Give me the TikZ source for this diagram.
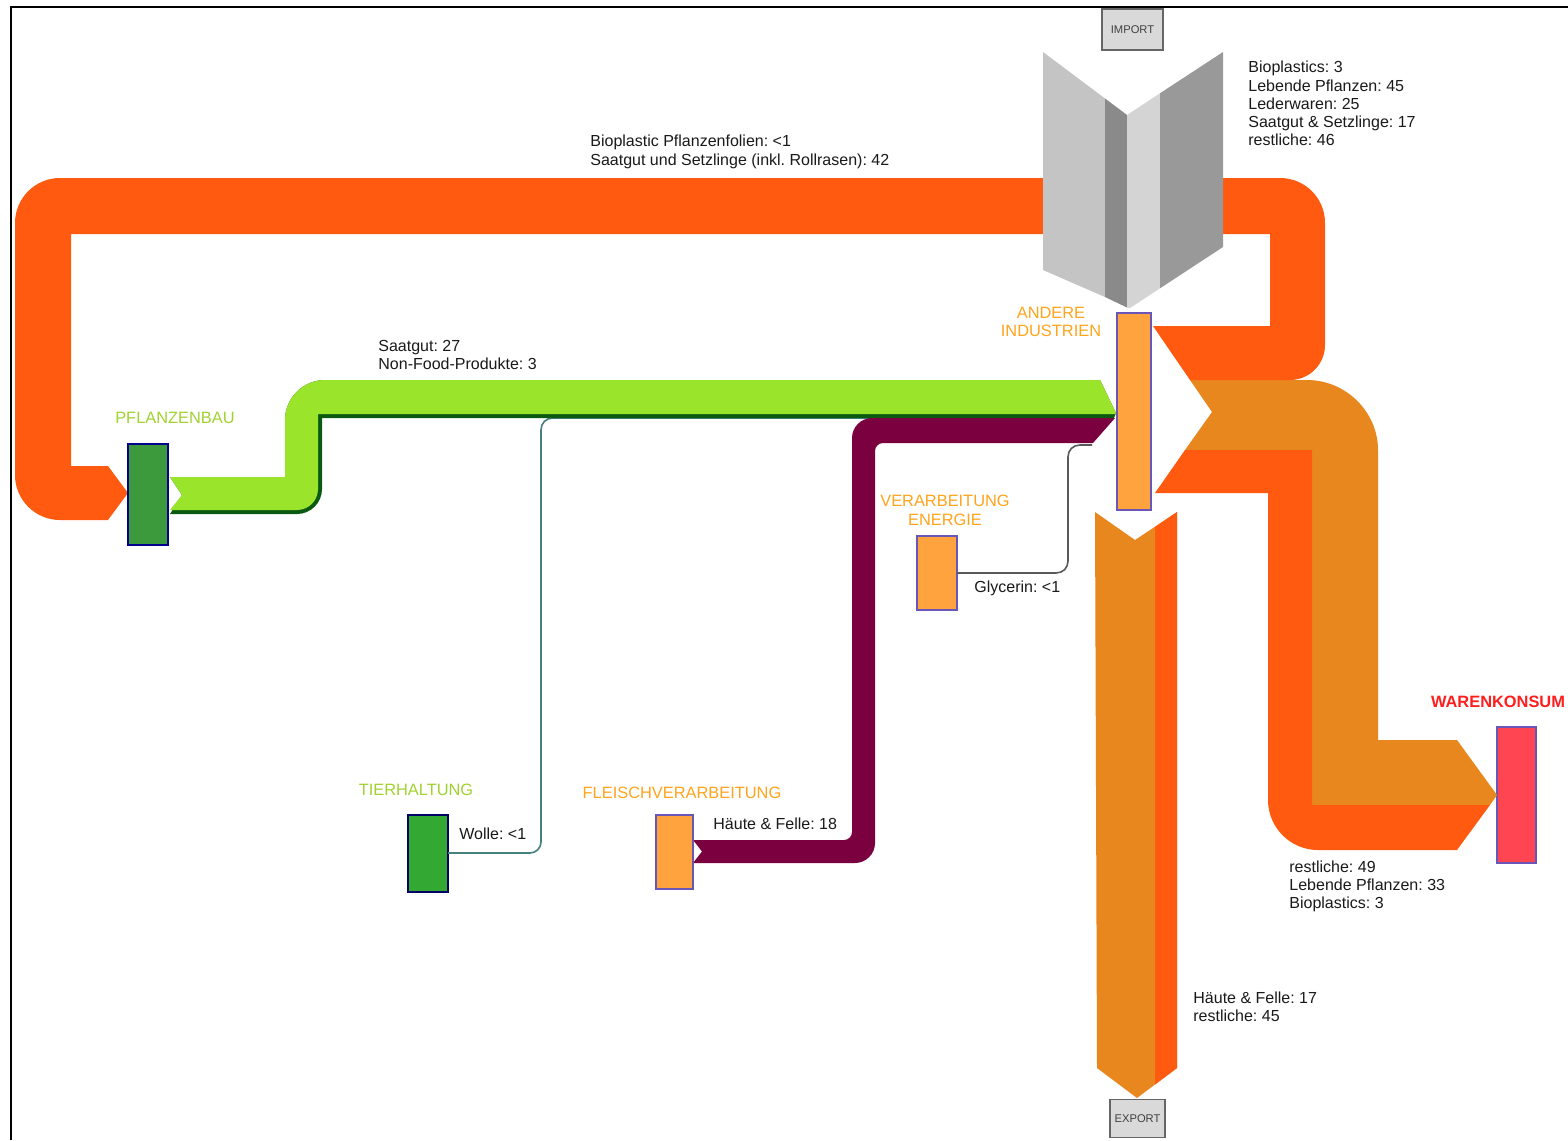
\documentclass[tikz,border=0pt]{standalone}
\usepackage{fontspec}
\setmainfont{Liberation Sans}
\frenchspacing

\definecolor{flowred}{HTML}{FF5A10}
\definecolor{flowamber}{HTML}{E8871E}
\definecolor{flowlime}{HTML}{9BE42C}
\definecolor{flowdkgreen}{HTML}{0B5A12}
\definecolor{flowmaroon}{HTML}{7A0040}
\definecolor{boxorange}{HTML}{FFA33E}
\definecolor{boxgreen}{HTML}{3C9A3C}
\definecolor{boxred}{HTML}{FF4452}
\definecolor{boxedge}{HTML}{6A56B8}
\definecolor{lblorange}{HTML}{FFA41C}
\definecolor{lblgreen}{HTML}{A2D232}
\definecolor{lblred}{HTML}{FF1E1E}
\definecolor{txtdark}{HTML}{1A1A1A}

\begin{document}
\begin{tikzpicture}[x=0.5pt,y=-0.5pt,
  procbox/.style={draw=boxedge,line width=0.7pt,inner sep=0pt,outer sep=0pt},
  ioport/.style={draw=black!60,fill=black!15,line width=0.6pt,inner sep=0pt,
    font=\fontsize{5.6}{6}\selectfont,text=black!75},
  flowtxt/.style={font=\fontsize{8}{9.1}\selectfont,text=txtdark,align=left,
    anchor=north west,inner sep=0pt},
  nodetxt/.style={font=\fontsize{8.2}{9.4}\selectfont,align=center,inner sep=0pt},
  thinflow/.style={line width=0.8pt}]

% page and frame
\useasboundingbox (0,0) rectangle (1568,1140);
\fill[white] (0,0) rectangle (1568,1140);
\draw[line width=1pt] (11,1140) -- (11,7) -- (1568,7);

% ---- process boxes ----
\node[procbox,fill=boxorange,minimum width=17pt,minimum height=98.5pt] (andere) at (1134,411.5) {};
\node[procbox,fill=boxgreen,draw=blue!55!black,minimum width=20pt,minimum height=50.5pt] (pflanzen) at (148,494.5) {};
\node[procbox,fill=boxgreen!85!green,draw=blue!40!black,minimum width=20pt,minimum height=38.5pt] (tier) at (428,853.5) {};
\node[procbox,fill=boxorange,minimum width=18.5pt,minimum height=37pt] (fleisch) at (674.5,852) {};
\node[procbox,fill=boxorange,minimum width=20pt,minimum height=37pt] (energie) at (937,573) {};
\node[procbox,fill=boxred,minimum width=19.5pt,minimum height=68pt] (waren) at (1516.5,795) {};
\node[ioport,minimum width=30.5pt,minimum height=20.5pt] (import) at (1132.5,29.5) {IMPORT};
\node[ioport,minimum width=27.5pt,minimum height=19pt,anchor=north] (export) at (1137.5,1099) {EXPORT};

% ---- thin flows (drawn below the wide bands they join) ----
\draw[thinflow,draw=teal!45!gray] (tier.east |- 0,853) -- (530,853)
  .. controls (536,853) and (541,848) .. (541,842) -- (541,430)
  .. controls (541,423) and (546,418) .. (553,418) -- (1100,418);
\draw[thinflow,draw=black!65] (energie.east |- 0,573) -- (1056,573)
  .. controls (1063,573) and (1068,568) .. (1068,561) -- (1068,457)
  .. controls (1068,450) and (1073,445) .. (1080,445) -- (1092,445);

% ---- import -> andere industrien / warenkonsum (right side) ----
\fill[flowamber] (1190,380) -- (1307,380) .. controls (1346,380) and (1378,412) .. (1378,450)
  -- (1378,740) -- (1457,740) -- (1497,795) -- (1490,805) -- (1312,805)
  -- (1312,450) -- (1185,450) -- (1212,412) -- cycle;
\fill[flowred] (1185,450) -- (1312,450) -- (1312,805) -- (1490,805) -- (1457,850)
  -- (1318,850) .. controls (1290.4,850) and (1268,827.6) .. (1268,800)
  -- (1268,493) -- (1155,493) -- cycle;
\fill[flowred] (1200,178) -- (1280,178) .. controls (1305,178) and (1325,198) .. (1325,223)
  -- (1325,345) .. controls (1325,364.3) and (1309.3,380) .. (1290,380)
  -- (1190,380) -- (1153,326) -- (1270,326) -- (1270,234) -- (1200,234) -- cycle;

% ---- import -> pflanzenbau ----
\fill[flowred] (1100,178) -- (60,178) .. controls (35.2,178) and (15,198.2) .. (15,223)
  -- (15,475) .. controls (15,499.8) and (35.2,520) .. (60,520)
  -- (108,520) -- (128,493) -- (108,466) -- (71,466) -- (71,234) -- (1100,234) -- cycle;

% ---- andere industrien -> export ----
\fill[flowamber] (1095,512) -- (1135,540) -- (1177,512) -- (1177,1068) -- (1137,1098) -- (1097,1068) -- cycle;
\fill[flowred] (1155,527) -- (1177,512) -- (1177,1068) -- (1155,1084.5) -- cycle;

% ---- pflanzenbau -> andere industrien (Saatgut, Non-Food) ----
\fill[flowdkgreen] (182,495) -- (170,477) -- (285,477) -- (285,420)
  .. controls (285,398) and (303,380) .. (325,380) -- (1100,380) -- (1116,413) -- (1114,418)
  -- (322,418) -- (322,489) .. controls (322,502.8) and (310.8,514) .. (297,514)
  -- (170,514) -- cycle;
\fill[flowlime] (182,495) -- (170,477) -- (285,477) -- (285,420)
  .. controls (285,398) and (303,380) .. (325,380) -- (1100,380) -- (1116,413) -- (1115,414)
  -- (318,414) -- (318,489) .. controls (318,500.6) and (308.6,510) .. (297,510)
  -- (170,510) -- cycle;

% ---- fleischverarbeitung -> andere industrien ----
\fill[flowmaroon] (702,851.5) -- (693,840) -- (844,840) .. controls (848.4,840) and (852,836.4) .. (852,832)
  -- (852,438) .. controls (852,427) and (861,418) .. (872,418) -- (1115,418) -- (1093,443)
  -- (883,443) .. controls (878.6,443) and (875,446.6) .. (875,451)
  -- (875,843) .. controls (875,854) and (866,863) .. (855,863) -- (693,863) -- cycle;

% ---- import symbol (folded arrow) ----
\fill[black!23] (1043,52) -- (1105,98.5) -- (1105,297) -- (1043,270) -- cycle;
\fill[black!46] (1105,98.5) -- (1127,115) -- (1127,307.5) -- (1105,297) -- cycle;
\fill[black!17] (1127,115) -- (1160,93.3) -- (1160,288.3) -- (1130,308) -- (1127,307.5) -- cycle;
\fill[black!40] (1160,93.3) -- (1223,52) -- (1223,247) -- (1160,288.3) -- cycle;

% redraw boxes on top of the bands
\node[procbox,fill=boxorange,minimum width=17pt,minimum height=98.5pt] (andereTop) at (andere) {};
\node[procbox,fill=boxgreen,draw=blue!55!black,minimum width=20pt,minimum height=50.5pt] (pflanzenTop) at (pflanzen) {};
\node[procbox,fill=boxorange,minimum width=18.5pt,minimum height=37pt] (fleischTop) at (fleisch) {};

% ---- node labels ----
\node[nodetxt,text=lblorange] (lAndere) at (1051,322) {ANDERE\\INDUSTRIEN};
\node[nodetxt,text=lblgreen] (lPflanzen) at (175,418) {PFLANZENBAU};
\node[nodetxt,text=lblorange] (lEnergie) at (945,510) {VERARBEITUNG\\ENERGIE};
\node[nodetxt,text=lblgreen] (lTier) at (416,790) {TIERHALTUNG};
\node[nodetxt,text=lblorange] (lFleisch) at (682,793) {FLEISCHVERARBEITUNG};
\node[nodetxt,text=lblred,font=\fontsize{8.2}{9.4}\selectfont\bfseries] (lWaren) at (1498,702) {WARENKONSUM};

% ---- flow labels ----
\node[flowtxt] (fImport) at (1248,61) {Bioplastics: 3\\Lebende Pflanzen: 45\\Lederwaren: 25\\Saatgut \& Setzlinge: 17\\restliche: 46};
\node[flowtxt] (fPflanzIn) at (590,135) {Bioplastic Pflanzenfolien: <1\\Saatgut und Setzlinge (inkl. Rollrasen): 42};
\node[flowtxt] (fPflanzOut) at (378,340) {Saatgut: 27\\Non-Food-Produkte: 3};
\node[flowtxt] (fGlyc) at (974,580) {Glycerin: <1};
\node[flowtxt] (fWolle) at (459,827) {Wolle: <1};
\node[flowtxt] (fHaeute) at (713,817) {Häute \& Felle: 18};
\node[flowtxt] (fWaren) at (1289,860) {restliche: 49\\Lebende Pflanzen: 33\\Bioplastics: 3};
\node[flowtxt] (fExport) at (1193,991) {Häute \& Felle: 17\\restliche: 45};
\end{tikzpicture}
\end{document}
